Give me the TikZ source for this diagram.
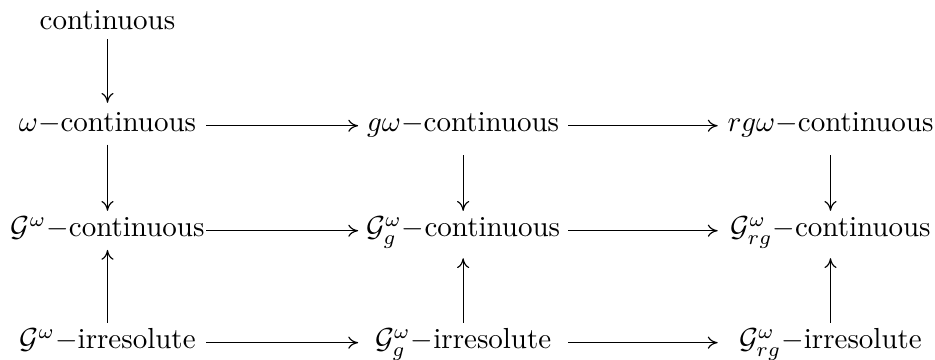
\documentclass[tikz,border=0pt]{standalone}
\usepackage{amsmath}
\usetikzlibrary{arrows.meta}
\tikzset{
  entry/.style={anchor=base, inner xsep=0pt, inner ysep=3.3pt},
  colone/.style={entry, minimum width=67.8pt},
  coltwo/.style={entry, minimum width=72pt},
  colthree/.style={entry, minimum width=77.4pt},
  flat/.style={text height=5.5pt},
  deep/.style={text depth=4.6pt},
  imp/.style={-{To[length=3.4pt, width=4.2pt]}, line width=0.4pt},
}

\begin{document}
\begin{tikzpicture}[x=1pt, y=1pt]
\useasboundingbox (0,0) rectangle (322.4,-124.1);

% --- Row 1 ---
\node[colone] (cont) at (37.07,-10.0) {continuous};

% --- Row 2: omega-continuity ---
\node[colone] (wcont) at (37.07,-45.5) {$\omega-$continuous};
\node[coltwo, deep] (gwcont) at (159.7,-45.5) {$g\omega-$continuous};
\node[colthree, deep] (rgwcont) at (286.37,-45.5) {$rg\omega-$continuous};

% --- Row 3: G^omega-continuity ---
\node[colone, flat] (Gcont) at (37.07,-81.7) {$\mathcal{G}^{\omega}-$continuous};
\node[coltwo, flat] (Ggcont) at (159.7,-81.7) {$\mathcal{G}^{\omega}_{g}-$continuous};
\node[colthree, flat] (Grgcont) at (286.37,-81.7) {$\mathcal{G}^{\omega}_{rg}-$continuous};

% --- Row 4: irresolute maps ---
\node[colone, flat] (Girr) at (37.07,-120.3) {$\mathcal{G}^{\omega}-$irresolute};
\node[coltwo, flat] (Ggirr) at (159.7,-120.3) {$\mathcal{G}^{\omega}_{g}-$irresolute};
\node[colthree, flat] (Grgirr) at (286.37,-120.3) {$\mathcal{G}^{\omega}_{rg}-$irresolute};

% horizontal implications
\draw[imp] (wcont.mid east) -- (gwcont.mid west);
\draw[imp] (gwcont.mid east) -- (rgwcont.mid west);
\draw[imp] (Gcont.mid east) -- (Ggcont.mid west);
\draw[imp] (Ggcont.mid east) -- (Grgcont.mid west);
\draw[imp] (Girr.mid east) -- (Ggirr.mid west);
\draw[imp] (Ggirr.mid east) -- (Grgirr.mid west);

% vertical implications
\draw[imp] (cont) -- (wcont);
\draw[imp] (wcont) -- (Gcont);
\draw[imp] (gwcont) -- (Ggcont);
\draw[imp] (rgwcont) -- (Grgcont);
\draw[imp] (Girr) -- (Gcont);
\draw[imp] (Ggirr) -- (Ggcont);
\draw[imp] (Grgirr) -- (Grgcont);

\end{tikzpicture}
\end{document}
